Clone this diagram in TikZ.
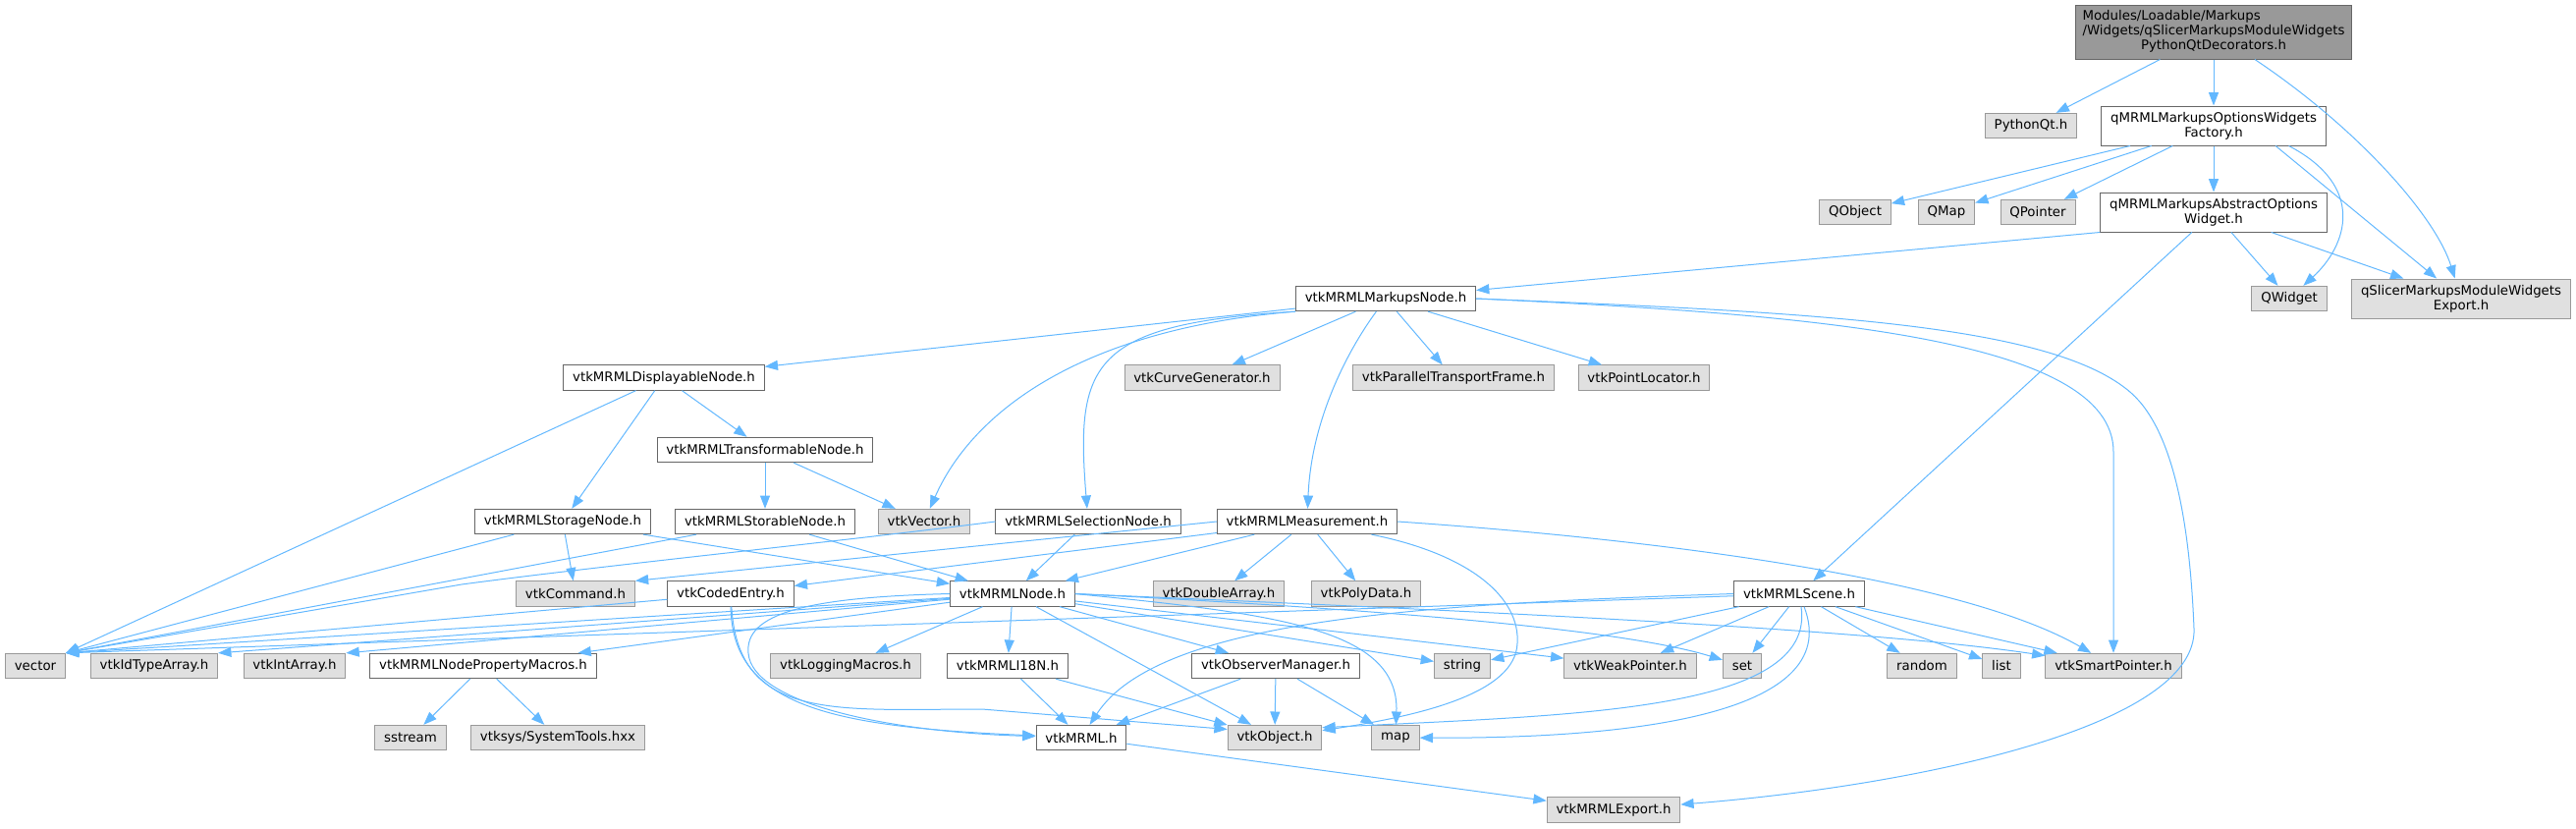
\documentclass[tikz,border=0pt]{standalone}
\usepackage{fontspec}
\setmainfont{DejaVu Sans}
\usetikzlibrary{arrows.meta}
\definecolor{edgeblue}{HTML}{63B8FF}
\definecolor{nodeline}{HTML}{666666}
\definecolor{extline}{HTML}{999999}
\definecolor{extfill}{HTML}{E0E0E0}
\definecolor{rootfill}{HTML}{999999}
\tikzset{
  filenode/.style={draw=nodeline, fill=white, line width=0.75pt, inner xsep=7pt, inner ysep=1pt,
    minimum height=19pt, align=center, font=\fontsize{10}{11.25}\selectfont},
  extnode/.style={filenode, draw=extline, fill=extfill},
  rootnode/.style={filenode, fill=rootfill, inner xsep=5pt, minimum height=41.25pt},
  incl/.style={draw=edgeblue, line width=0.75pt, -{Triangle[length=10pt,width=7.5pt]}},
}
\begin{document}
\begin{tikzpicture}[x=0.75pt,y=-0.75pt]
\useasboundingbox (0,0) rectangle (2623,843);
%%%%% top: the decorators header and the widgets
\node[rootnode] (root) at (2254,32.5) {\begin{tabular}{@{}l@{}}Modules/Loadable/Markups\\/Widgets/qSlicerMarkupsModuleWidgets\\\multicolumn{1}{@{}c@{}}{PythonQtDecorators.h}\end{tabular}};
\node[extnode] (pyqt) at (2068,128) {PythonQt.h};
\node[filenode, minimum height=30pt] (factory) at (2254,128) {qMRMLMarkupsOptionsWidgets\\Factory.h};
\node[extnode] (qobject) at (1889,216) {QObject};
\node[extnode] (qmap) at (1982,216) {QMap};
\node[extnode] (qpointer) at (2075,216) {QPointer};
\node[filenode, minimum height=30pt] (abstract) at (2254,216) {qMRMLMarkupsAbstractOptions\\Widget.h};
\node[extnode] (qwidget) at (2331,304) {QWidget};
\node[extnode, minimum height=30pt] (qsexport) at (2506,304) {qSlicerMarkupsModuleWidgets\\Export.h};
%%%%% markups node and what it pulls in
\node[filenode] (markups) at (1411,304) {vtkMRMLMarkupsNode.h};
\node[filenode] (displayable) at (676,384.5) {vtkMRMLDisplayableNode.h};
\node[extnode] (curvegen) at (1224,384.5) {vtkCurveGenerator.h};
\node[extnode] (ptf) at (1480,384.5) {vtkParallelTransportFrame.h};
\node[extnode] (pointloc) at (1674,384.5) {vtkPointLocator.h};
\node[filenode] (transformable) at (779,458) {vtkMRMLTransformableNode.h};
\node[filenode] (storage) at (573,531) {vtkMRMLStorageNode.h};
\node[filenode] (storable) at (779,531) {vtkMRMLStorableNode.h};
\node[extnode] (vtkvector) at (941,531) {vtkVector.h};
\node[filenode] (selection) at (1108,531) {vtkMRMLSelectionNode.h};
\node[filenode] (measurement) at (1331,531) {vtkMRMLMeasurement.h};
\node[extnode] (command) at (586,604.5) {vtkCommand.h};
\node[filenode] (coded) at (744,604.5) {vtkCodedEntry.h};
\node[filenode] (mrmlnode) at (1031,604.5) {vtkMRMLNode.h};
\node[extnode] (doublearr) at (1241,604.5) {vtkDoubleArray.h};
\node[extnode] (polydata) at (1391,604.5) {vtkPolyData.h};
\node[filenode] (scene) at (1832,604.5) {vtkMRMLScene.h};
%%%%% bottom rows
\node[extnode] (vector) at (36,678) {vector};
\node[extnode] (idtype) at (157,678) {vtkIdTypeArray.h};
\node[extnode] (intarr) at (300,678) {vtkIntArray.h};
\node[filenode] (propmacros) at (492,678) {vtkMRMLNodePropertyMacros.h};
\node[extnode] (logging) at (861,678) {vtkLoggingMacros.h};
\node[filenode] (i18n) at (1026,678) {vtkMRMLI18N.h};
\node[filenode] (observer) at (1299,678) {vtkObserverManager.h};
\node[extnode] (string) at (1489,678) {string};
\node[extnode] (weakptr) at (1660,678) {vtkWeakPointer.h};
\node[extnode] (set) at (1774,678) {set};
\node[extnode] (random) at (1957,678) {random};
\node[extnode] (list) at (2038,678) {list};
\node[extnode] (smartptr) at (2152,678) {vtkSmartPointer.h};
\node[extnode] (sstream) at (418,751) {sstream};
\node[extnode] (systools) at (568,751) {vtksys/SystemTools.hxx};
\node[filenode] (mrml) at (1101,751) {vtkMRML.h};
\node[extnode] (object) at (1298,751) {vtkObject.h};
\node[extnode] (map) at (1421,751) {map};
\node[extnode] (mrmlexport) at (1643,824.5) {vtkMRMLExport.h};
%%%%% straight includes
\foreach \a/\b in {root/pyqt, root/factory, factory/qobject, factory/qmap, factory/qpointer,
  factory/abstract, abstract/qwidget, abstract/qsexport, abstract/scene,
  markups/displayable, markups/curvegen, markups/ptf, markups/pointloc,
  displayable/transformable, displayable/storage, transformable/storable, transformable/vtkvector,
  storage/command, storage/mrmlnode, storable/mrmlnode, selection/mrmlnode,
  measurement/mrmlnode, measurement/coded, measurement/doublearr, measurement/polydata,
  mrmlnode/propmacros, mrmlnode/logging, mrmlnode/i18n, mrmlnode/observer, mrmlnode/object,
  mrmlnode/string, mrmlnode/weakptr, scene/string, scene/weakptr, scene/set, scene/random,
  scene/list, scene/smartptr, i18n/mrml, i18n/object, observer/mrml, observer/object,
  observer/map, propmacros/sstream, propmacros/systools, mrml/mrmlexport}{
  \draw[incl] (\a) -- (\b);
}
\foreach \a in {displayable, storage, storable, coded, mrmlnode, scene}{
  \draw[incl] (\a) -- (vector.north east);
}
\draw[incl] (mrmlnode) -- (idtype.north east);
\draw[incl] (mrmlnode) -- (intarr.north east);
\draw[incl] (measurement.west) -- (command.north east);
\draw[incl] (factory.-18) -- (qsexport);
\draw[incl] (abstract.south west) -- (markups);
%%%%% curved includes
\draw[incl] (root) .. controls (2400,130) and (2480,220) .. (qsexport);
\draw[incl] (factory.-15) .. controls (2410,190) and (2390,250) .. (qwidget);
\draw[incl] (markups.south west) .. controls (1100,335) and (990,420) .. (vtkvector);
\draw[incl] (markups.south west) .. controls (1110,330) and (1095,370) .. (selection);
\draw[incl] (markups) .. controls (1370,360) and (1335,430) .. (measurement);
\draw[incl] (markups.east) .. controls (1850,320) and (2152,345) .. (2152,460) -- (smartptr);
\draw[incl] (markups.east) .. controls (1850,318) and (2090,330) .. (2170,400)
  .. controls (2215,440) and (2230,540) .. (2234,640)
  .. controls (2238,740) and (1950,800) .. (mrmlexport);
\draw[incl] (selection.west) .. controls (850,552) and (620,575) .. (470,595) -- (vector.north east);
\draw[incl] (measurement) .. controls (1500,565) and (1548,610) .. (1545,655)
  .. controls (1543,705) and (1450,728) .. (object);
\draw[incl] (measurement.east) .. controls (1700,550) and (2000,590) .. (smartptr);
\draw[incl] (coded) .. controls (745,720) and (850,740) .. (mrml);
\draw[incl] (coded) .. controls (752,735) and (850,722) .. (1000,722) -- (object.170);
\draw[incl] (mrmlnode.west) .. controls (820,608) and (758,625) .. (762,665)
  .. controls (766,715) and (900,745) .. (mrml);
\draw[incl] (mrmlnode.east) .. controls (1300,625) and (1425,640) .. (map);
\draw[incl] (mrmlnode.east) .. controls (1400,620) and (1650,640) .. (set);
\draw[incl] (mrmlnode.east) .. controls (1500,622) and (1900,640) .. (smartptr);
\draw[incl] (scene.west) .. controls (1450,615) and (1180,630) .. (mrml);
\draw[incl] (scene) .. controls (1850,725) and (1600,728) .. (object.12);
\draw[incl] (scene) .. controls (1880,730) and (1650,752) .. (map);
\end{tikzpicture}
\end{document}
